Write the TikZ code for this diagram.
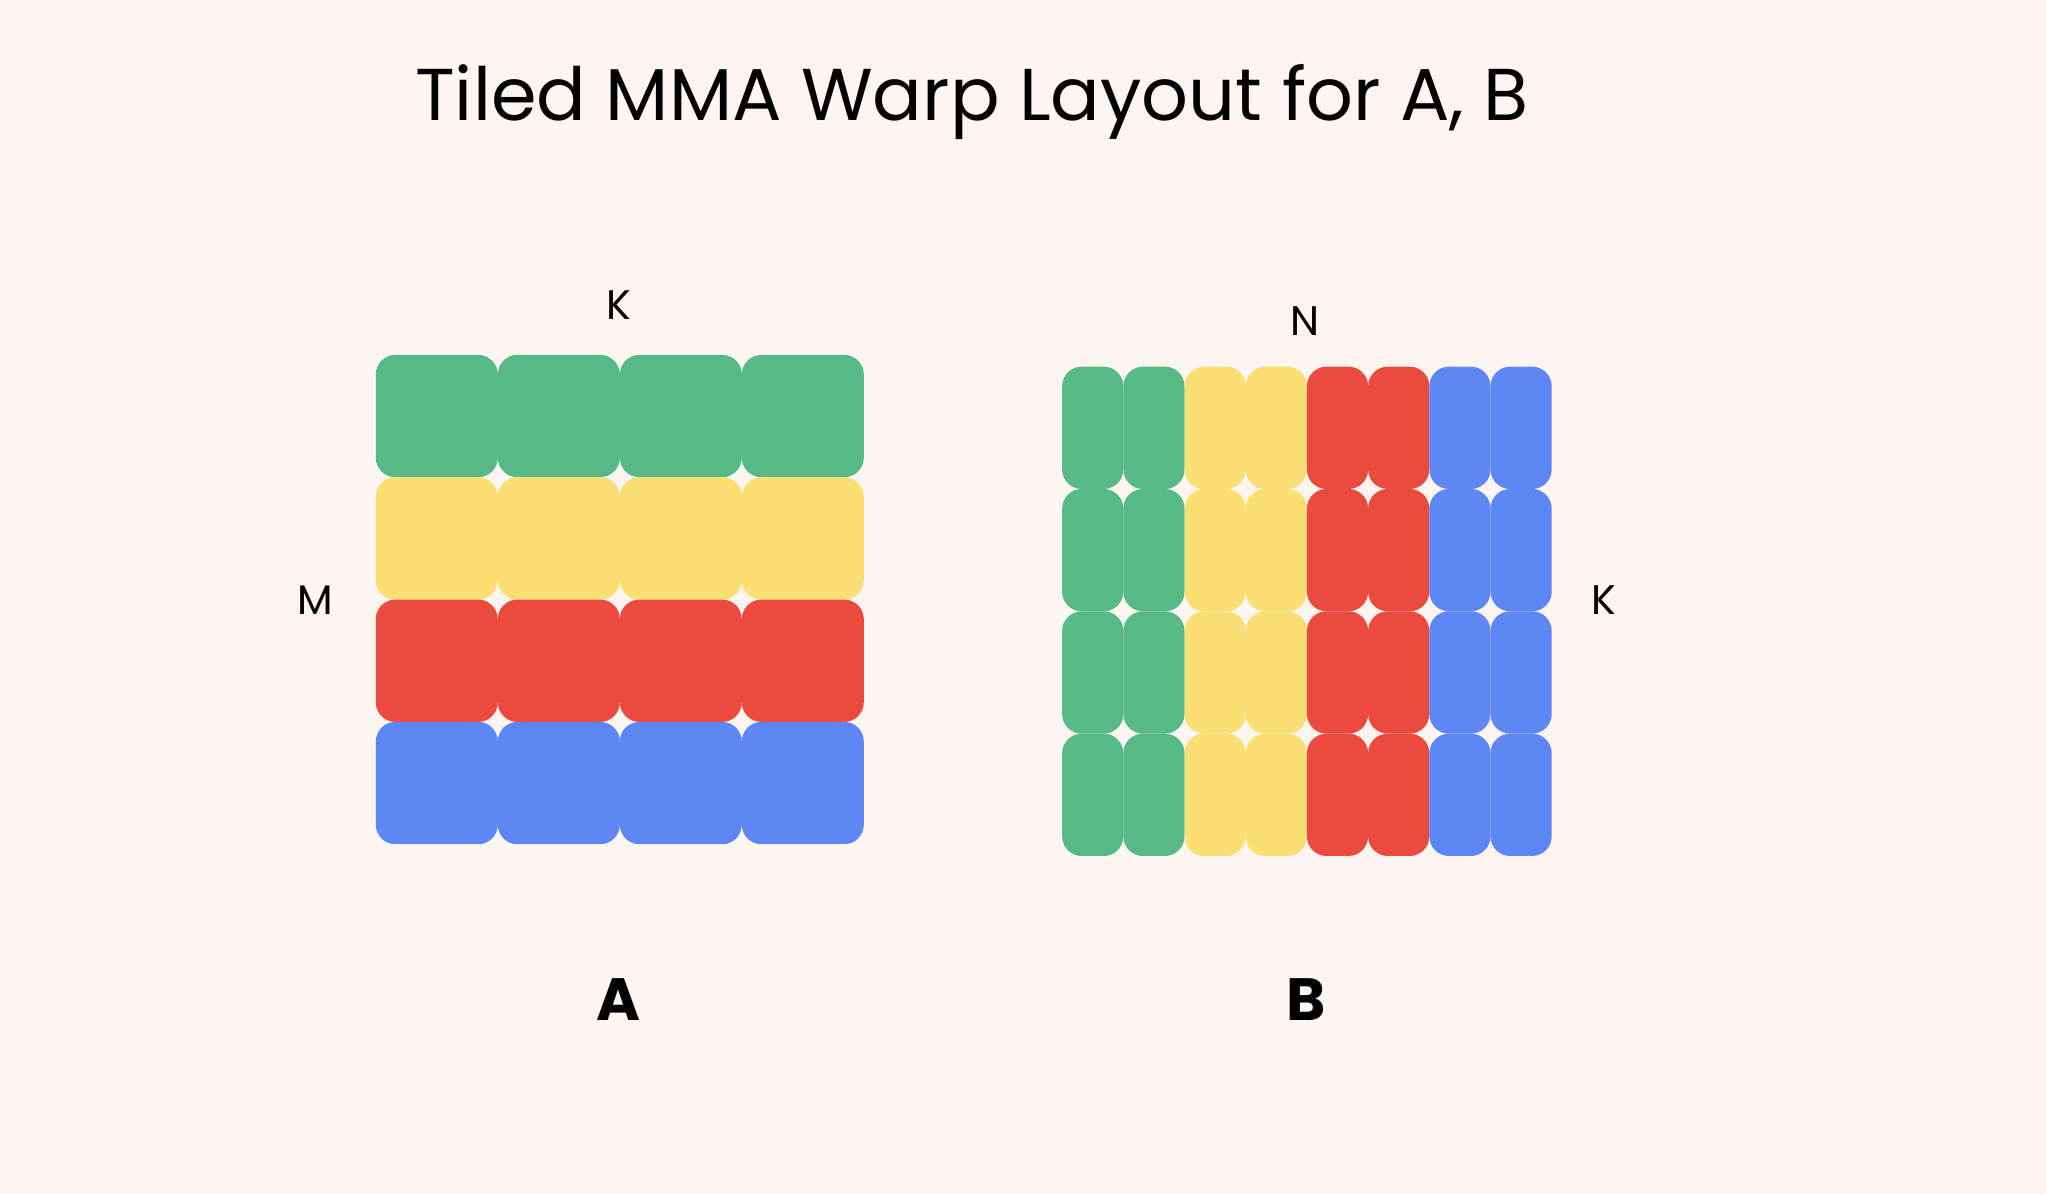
\documentclass[tikz,border=0pt]{standalone}
\usepackage{fontspec}
\setmainfont{Poppins}
\definecolor{bg}{HTML}{FDF5F0}
\definecolor{cg}{HTML}{57B987}
\definecolor{cy}{HTML}{F9DF74}
\definecolor{cr}{HTML}{EB4A3F}
\definecolor{cb}{HTML}{5E87F5}
\begin{document}
\begin{tikzpicture}[x=0.01cm,y=-0.01cm,
  cell/.style={rounded corners=0.15cm}]
\fill[bg] (0,0) rectangle (1568,915);
\useasboundingbox (0,0) rectangle (1568,915);
\node (title) at (745,78) {\fontsize{16pt}{18pt}\selectfont Tiled MMA Warp Layout for A, B};
% A grid
\foreach \r/\c in {0/cg,1/cy,2/cr,3/cb}{
  \foreach \k in {0,...,3}{
    \fill[\c,cell] ({288+93.5*\k},{272+93.75*\r}) rectangle ++(93.5,93.75);
  }}
% B grid
\foreach \k/\c in {0/cg,1/cg,2/cy,3/cy,4/cr,5/cr,6/cb,7/cb}{
  \foreach \r in {0,...,3}{
    \fill[\c,cell] ({814+46.9*\k},{281+93.75*\r}) rectangle ++(46.9,93.75);
  }}
\node (kA) at (474,234) {\fontsize{9pt}{11pt}\selectfont K};
\node (mA) at (242,460) {\fontsize{9pt}{11pt}\selectfont M};
\node (nB) at (1000,246) {\fontsize{9pt}{11pt}\selectfont N};
\node (kB) at (1229,460) {\fontsize{9pt}{11pt}\selectfont K};
\node (lA) at (474,766) {\fontsize{13pt}{15pt}\selectfont\bfseries A};
\node (lB) at (1001,766) {\fontsize{13pt}{15pt}\selectfont\bfseries B};
\end{tikzpicture}
\end{document}
